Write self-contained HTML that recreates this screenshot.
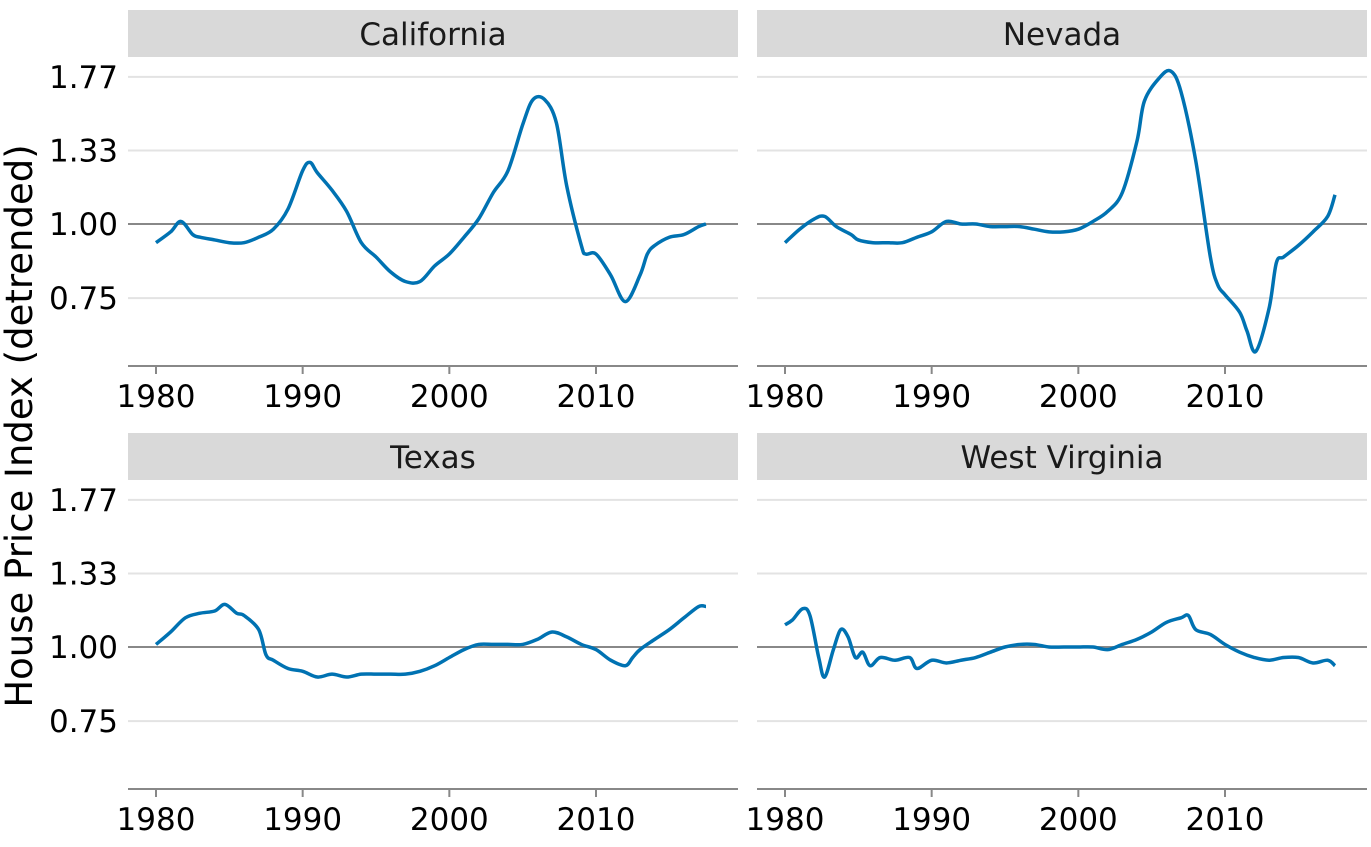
<!DOCTYPE html>
<html><head><meta charset="utf-8">
<style>
html,body{margin:0;padding:0;background:#fff;}
svg{display:block;font-family:"DejaVu Sans","Liberation Sans",sans-serif;}
</style></head>
<body>
<svg id="chart" width="1371" height="847" viewBox="0 0 1371 847">
<text x="32" y="426" font-size="37" text-anchor="middle" transform="rotate(-90 32 426)" fill="#000">House Price Index (detrended)</text>
</svg>
<script>
const states = ["California","Nevada","Texas","West Virginia"];
const yTicks = [0.75, 1.00, 1.33, 1.77];
const yTickLabels = ["0.75","1.00","1.33","1.77"];
const xTicks = [1980, 1990, 2000, 2010];
const caYears = [1980,1981,1981.7,1982.5,1983,1984,1985,1986,1987,1988,1989,1990,1990.5,1991,1992,1993,1994,1995,1996,1997,1998,1999,2000,2001,2002,2003,2004,2005,2005.7,2006.5,2007.3,2008,2009,2009.3,2010,2011,2012,2013,2013.5,2014,2015,2016,2017,2017.5];
const caValues = [0.93,0.97,1.01,0.96,0.95,0.94,0.93,0.93,0.95,0.98,1.06,1.23,1.27,1.22,1.14,1.05,0.93,0.88,0.83,0.80,0.80,0.85,0.89,0.95,1.02,1.13,1.23,1.47,1.62,1.62,1.48,1.16,0.92,0.89,0.89,0.82,0.74,0.82,0.89,0.92,0.95,0.96,0.99,1.00];
const nvYears = [1980,1981,1982,1982.7,1983.5,1984.5,1985,1986,1987,1988,1989,1990,1991,1992,1993,1994,1995,1996,1997,1998,1999,2000,2001,2002,2003,2004,2004.5,2005.5,2006.3,2007,2008,2009,2009.5,2010,2011,2011.5,2012.1,2013,2013.5,2014,2015,2016,2017,2017.5];
const nvValues = [0.93,0.98,1.02,1.03,0.99,0.96,0.94,0.93,0.93,0.93,0.95,0.97,1.01,1.00,1.00,0.99,0.99,0.99,0.98,0.97,0.97,0.98,1.01,1.05,1.13,1.38,1.61,1.76,1.81,1.67,1.28,0.88,0.79,0.76,0.71,0.66,0.61,0.72,0.86,0.88,0.92,0.97,1.03,1.12];
const txYears = [1980,1981,1982,1983,1984,1984.7,1985.5,1986,1987,1987.5,1988,1989,1990,1991,1992,1993,1994,1995,1996,1997,1998,1999,2000,2001,2002,2003,2004,2005,2006,2007,2008,2009,2010,2011,2012,2012.5,2013,2014,2015,2016,2017,2017.5];
const txValues = [1.01,1.06,1.12,1.14,1.15,1.18,1.14,1.13,1.07,0.97,0.95,0.92,0.91,0.89,0.90,0.89,0.90,0.90,0.90,0.90,0.91,0.93,0.96,0.99,1.01,1.01,1.01,1.01,1.03,1.06,1.04,1.01,0.99,0.95,0.93,0.96,0.99,1.03,1.07,1.12,1.17,1.17];
const wvYears = [1980,1980.5,1981.2,1981.7,1982.3,1982.7,1983.3,1983.8,1984.3,1984.8,1985.3,1985.8,1986.5,1987.5,1988.5,1989,1990,1991,1992,1993,1994,1995,1996,1997,1998,1999,2000,2001,2002,2003,2004,2005,2006,2007,2007.5,2008,2009,2010,2011,2012,2013,2014,2015,2016,2017,2017.5];
const wvValues = [1.09,1.11,1.16,1.13,0.96,0.89,0.99,1.07,1.04,0.96,0.98,0.93,0.96,0.95,0.96,0.92,0.95,0.94,0.95,0.96,0.98,1.00,1.01,1.01,1.00,1.00,1.00,1.00,0.99,1.01,1.03,1.06,1.10,1.12,1.13,1.07,1.05,1.01,0.98,0.96,0.95,0.96,0.96,0.94,0.95,0.93];
const seriesYears = [caYears, nvYears, txYears, wvYears];
const seriesValues = [caValues, nvValues, txValues, wvValues];

const NS = "http://www.w3.org/2000/svg";
const svg = document.getElementById("chart");
function mk(tag, attrs, parent){const e=document.createElementNS(NS,tag);for(const k in attrs)e.setAttribute(k,attrs[k]);(parent||svg).appendChild(e);return e;}
const panels = [{x0:128,x1:738,top:10},{x0:757,x1:1367,top:10},{x0:128,x1:738,top:433},{x0:757,x1:1367,top:433}];
const L = Math.log(1.33);
states.forEach((st, i) => {
  const p = panels[i];
  const g = mk("g", {});
  
  
  const base = p.top + 214;
  const yS = v => base - Math.log(v) / L * 73.5;
  const xS = yr => (p.x0 + 28) + (yr - 1980) * 14.667;
  const strip = mk("rect", {x:p.x0, y:p.top, width:p.x1-p.x0, height:47, fill:"#d9d9d9"}, g);
  
  
  const t = mk("text", {x:(p.x0+p.x1)/2, y:p.top+35, "font-size":"31", "text-anchor":"middle", fill:"#1a1a1a"}, g);
  t.textContent = st;
  
  
  yTicks.forEach((v, j) => {
    const y = yS(v);
    const gl = mk("line", {x1:p.x0, x2:p.x1, y1:y, y2:y, stroke: v===1 ? "#888" : "#e3e3e3", "stroke-width":2}, g);
    
    
    if (i % 2 === 0) {
      const lb = mk("text", {x:118, y:y+11, "font-size":"31", "text-anchor":"end", fill:"#000"}, g);
      lb.textContent = yTickLabels[j];
      
      
    }
  });
  const ay = p.top + 356;
  const ax = mk("line", {x1:p.x0, x2:p.x1, y1:ay, y2:ay, stroke:"#888", "stroke-width":2}, g);
  
  
  xTicks.forEach(yr => {
    const x = xS(yr);
    const tk = mk("line", {x1:x, x2:x, y1:ay, y2:ay+8, stroke:"#888", "stroke-width":2}, g);
    
    
    const lb = mk("text", {x:x, y:ay+41, "font-size":"31", "text-anchor":"middle", fill:"#000"}, g);
    lb.textContent = yr;
    
    
  });
  const yrs = seriesYears[i], vals = seriesValues[i];
  const pts = yrs.map((yr, k) => [xS(yr), yS(vals[k])]);
  let d = "M" + pts[0][0] + "," + pts[0][1];
  for (let k = 0; k < pts.length - 1; k++) {
    const p0 = pts[Math.max(0,k-1)], p1 = pts[k], p2 = pts[k+1], p3 = pts[Math.min(pts.length-1,k+2)];
    const c1 = [p1[0]+(p2[0]-p0[0])/6, p1[1]+(p2[1]-p0[1])/6];
    const c2 = [p2[0]-(p3[0]-p1[0])/6, p2[1]-(p3[1]-p1[1])/6];
    d += " C" + c1[0] + "," + c1[1] + " " + c2[0] + "," + c2[1] + " " + p2[0] + "," + p2[1];
  }
  const line = mk("path", {d:d, fill:"none", stroke:"#0072b2", "stroke-width":3.5, "stroke-linejoin":"round"}, g);
  
  
});
</script>
</body></html>
